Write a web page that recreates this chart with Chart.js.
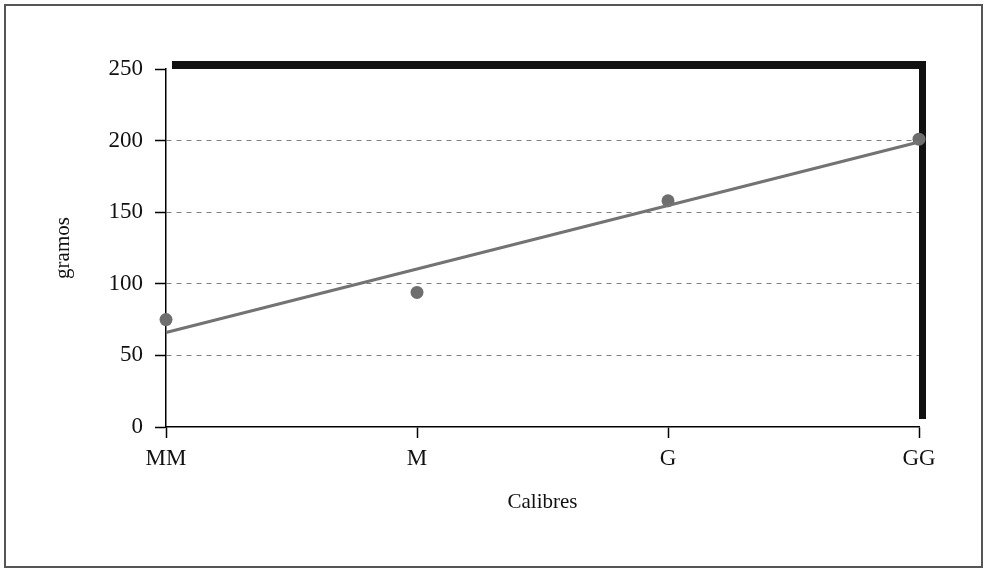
<html>
    <head>
        <title>Calibres</title>
        <style>
            body { margin: 0; background: #ffffff; }
            #wrap { width: 984px; height: 570px; }
        </style>
    </head>
    <body>
        <div id="wrap">
            <canvas id="grafico" width="984" height="570"></canvas>
        </div>
        <script src="https://cdn.jsdelivr.net/npm/chart.js@4/dist/chart.umd.min.js"></script>
        <script>
            const calibres = ['MM', 'M', 'G', 'GG']
            const gramos = [75, 94, 158, 201]
            // recta de tendencia: solo extremos
            const tendencia = [66, null, null, 199]
            const yTicks = [0, 50, 100, 150, 200, 250]

            const serif = 'Liberation Serif'

            // marco exterior + sombra negra del area del grafico
            const marco = {
                id: 'marco',
                beforeDraw(chart) {
                    const c = chart.ctx
                    const a = chart.chartArea
                    c.save()
                    c.fillStyle = '#ffffff'
                    c.fillRect(0, 0, chart.width, chart.height)
                    c.strokeStyle = '#555'
                    c.lineWidth = 2
                    c.strokeRect(5, 5, 977, 562)
                    c.fillStyle = '#111'
                    c.fillRect(a.left + 6, a.top - 8, a.right - a.left + 1, a.bottom - a.top)
                    c.fillStyle = '#ffffff'
                    c.fillRect(a.left, a.top, a.right - a.left, a.bottom - a.top)
                    c.restore()
                }
            }

            new Chart(document.getElementById('grafico'), {
                type: 'line',
                data: {
                    labels: calibres,
                    datasets: [
                        {
                            data: tendencia,
                            spanGaps: true,
                            borderColor: '#737373',
                            borderWidth: 3,
                            pointRadius: 0,
                            clip: false
                        },
                        {
                            data: gramos,
                            showLine: false,
                            pointRadius: 6.5,
                            pointBackgroundColor: '#6e6e6e',
                            pointBorderWidth: 0,
                            clip: false
                        }
                    ]
                },
                options: {
                    responsive: false,
                    animation: false,
                    layout: { padding: { top: 69, right: 65, left: 0, bottom: 0 } },
                    plugins: { legend: { display: false }, tooltip: { enabled: false } },
                    scales: {
                        x: {
                            offset: false,
                            afterFit: s => { s.height = 143 },
                            grid: { drawOnChartArea: false, drawTicks: true, tickLength: 11, tickColor: '#000', tickWidth: 1.5 },
                            border: { color: '#000', width: 1.5 },
                            ticks: { color: '#111', padding: 7, font: { family: serif, size: 23 } },
                            title: { display: true, text: 'Calibres', color: '#111', padding: { bottom: 55 }, font: { family: serif, size: 21 } }
                        },
                        y: {
                            min: 0,
                            max: 250,
                            afterFit: s => { s.width = 166 },
                            afterBuildTicks: s => { s.ticks = yTicks.map(v => ({ value: v })) },
                            grid: {
                                color: ctx => (ctx.tick && (ctx.tick.value === 0 || ctx.tick.value === 250)) ? 'rgba(0,0,0,0)' : '#808080',
                                tickBorderDash: [],
                                tickColor: '#000',
                                tickLength: 11,
                                tickWidth: 1.5
                            },
                            border: { color: '#000', width: 1.5, dash: [5, 5] },
                            ticks: { color: '#111', padding: 12, font: { family: serif, size: 23 } },
                            title: { display: true, text: 'gramos', color: '#111', padding: { top: 51 }, font: { family: serif, size: 21 } }
                        }
                    }
                },
                plugins: [marco]
            })
        </script>
    </body>
</html>
